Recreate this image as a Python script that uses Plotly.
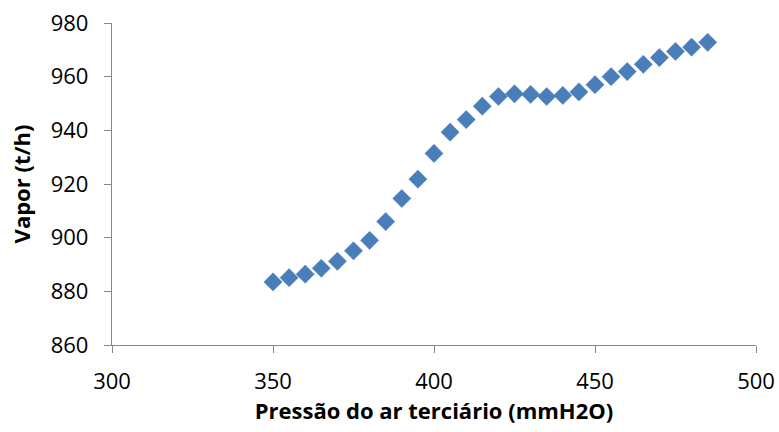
import plotly.graph_objects as go

# Tertiary air pressure (mmH2O) and steam production (t/h)
pressao = [350, 355, 360, 365, 370, 375, 380, 385, 390, 395, 400, 405, 410, 415,
           420, 425, 430, 435, 440, 445, 450, 455, 460, 465, 470, 475, 480, 485]
vapor = [883.5, 885.1, 886.4, 888.6, 891.2, 895.1, 899.0, 906.0, 914.6, 921.8,
         931.4, 939.3, 944.0, 949.0, 952.6, 953.6, 953.4, 952.6, 953.0, 954.3,
         957.0, 960.0, 961.9, 964.6, 967.1, 969.4, 971.0, 972.8]

x_ticks = [300, 350, 400, 450, 500]
y_ticks = [860, 880, 900, 920, 940, 960, 980]

FONT = "'Open Sans', sans-serif"
AXIS_GRAY = "#868686"

fig = go.Figure(
    go.Scatter(
        x=pressao,
        y=vapor,
        mode="markers",
        marker=dict(symbol="diamond", size=14, color="#4a7ebb",
                    line=dict(color="#4a7ebb", width=0.5)),
        showlegend=False,
    )
)

axis_common = dict(
    showgrid=False,
    zeroline=False,
    showline=True,
    automargin=False,
    linecolor=AXIS_GRAY,
    linewidth=1.3,
    ticks="outside",
    ticklen=7,
    tickcolor=AXIS_GRAY,
    tickwidth=1.3,
    tickfont=dict(family=FONT, size=22, color="#000000"),
)

fig.update_xaxes(
    range=[300, 500],
    tickvals=x_ticks,
    ticktext=[str(v) for v in x_ticks],
    ticklabelstandoff=9,
    title=dict(text="<b>Pressão do ar terciário (mmH2O)</b>",
               font=dict(family=FONT, size=22, color="#000000"), standoff=9),
    **axis_common,
)
fig.update_yaxes(
    range=[860, 980],
    tickvals=y_ticks,
    ticktext=[str(v) for v in y_ticks],
    ticklabelstandoff=11,
    title=dict(text="<b>Vapor (t/h)</b>",
               font=dict(family=FONT, size=22, color="#000000"), standoff=14),
    **axis_common,
)

fig.update_layout(
    width=779,
    height=432,
    margin=dict(l=112, r=23, t=23, b=87),
    paper_bgcolor="white",
    plot_bgcolor="white",
)

fig.write_html("out.html")
